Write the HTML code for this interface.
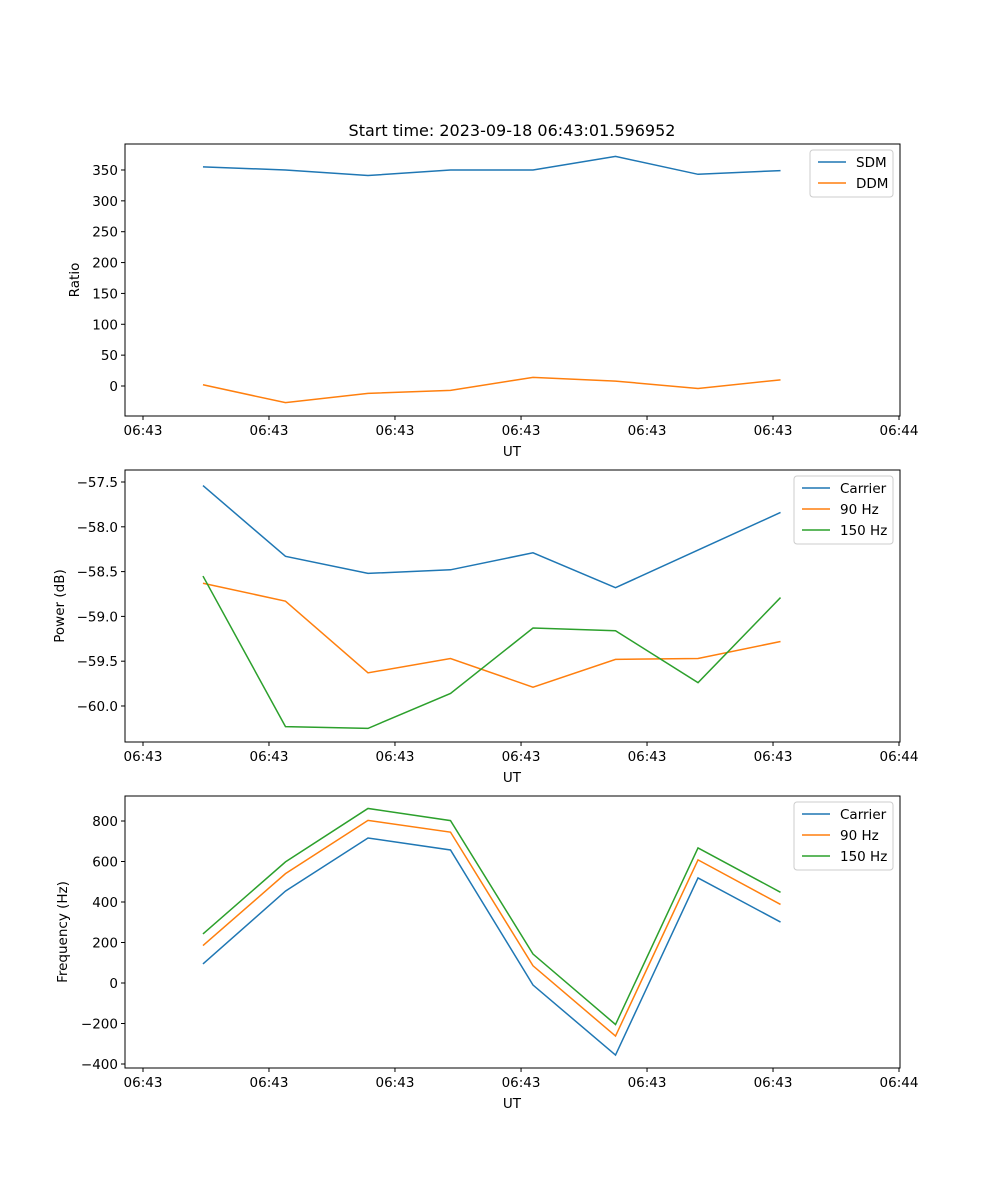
<!DOCTYPE html>
<html><head><meta charset="utf-8"><style>
html,body{margin:0;padding:0;background:#fff;}
svg{display:block;font-family:"DejaVu Sans","Liberation Sans",sans-serif;}
</style></head><body>
<svg id="fig" width="1000" height="1200" viewBox="0 0 1000 1200">
<text x="512" y="136" font-size="16" text-anchor="middle">Start time: 2023-09-18 06:43:01.596952</text>
</svg>
<script>
const xIdx = [0,1,2,3,4,5,6,7];
const xTickVals = [-0.727,0.8,2.327,3.855,5.382,6.909,8.436];
const xTickLabels = ["06:43","06:43","06:43","06:43","06:43","06:43","06:44"];
const sdm = [355,350,341,350,350,372,343,349];
const ddm = [2,-27,-12,-7,14,8,-4,10];
const pwrCarrier = [-57.54,-58.33,-58.52,-58.48,-58.29,-58.68,-58.26,-57.84];
const pwr90 = [-58.63,-58.83,-59.63,-59.47,-59.79,-59.48,-59.47,-59.28];
const pwr150 = [-58.55,-60.23,-60.25,-59.86,-59.13,-59.16,-59.74,-58.79];
const frqCarrier = [94,454,716,657,-10,-356,519,301];
const frq90 = [185,540,803,745,85,-262,608,388];
const frq150 = [242,598,862,802,143,-205,667,448];
const yTicks1 = [0,50,100,150,200,250,300,350];
const yTicks2 = [-60.0,-59.5,-59.0,-58.5,-58.0,-57.5];
const yTicks3 = [-400,-200,0,200,400,600,800];

const NS="http://www.w3.org/2000/svg";
const svg=document.getElementById('fig');
function mk(tag,attrs,parent){const e=document.createElementNS(NS,tag);for(const k in attrs)e.setAttribute(k,attrs[k]);(parent||svg).appendChild(e);return e;}
const X0=125,X1=900,XMIN=-0.945,XMAX=8.448;
const xs=v=>X0+(v-XMIN)/(XMAX-XMIN)*(X1-X0);
const colors=['#1f77b4','#ff7f0e','#2ca02c'];

function panel(id,top,bot,ymin,ymax,yTicks,fmt,ylab,series,names,legX,legW){
  const g=mk('g',{});
  
  
  const ys=v=>bot-(v-ymin)/(ymax-ymin)*(bot-top);
  series.forEach((s,i)=>{
    const p=mk('polyline',{points:s.map((v,j)=>xs(xIdx[j])+','+ys(v)).join(' '),fill:'none',stroke:colors[i],'stroke-width':1.5},g);
    
    
  });
  mk('rect',{x:X0,y:top,width:X1-X0,height:bot-top,fill:'none',stroke:'#000','stroke-width':1},g);
  xTickVals.forEach((v,i)=>{
    const x=xs(v);
    mk('line',{x1:x,x2:x,y1:bot,y2:bot+4,stroke:'#000'},g);
    const t=mk('text',{x:x,y:bot+19,'font-size':13.5,'text-anchor':'middle'},g);t.textContent=xTickLabels[i];
    
    
  });
  const xl=mk('text',{x:512,y:bot+40,'font-size':13.5,'text-anchor':'middle'},g);xl.textContent='UT';
  
  
  yTicks.forEach(v=>{
    const y=ys(v);
    mk('line',{x1:X0-4,x2:X0,y1:y,y2:y,stroke:'#000'},g);
    const t=mk('text',{x:X0-7,y:y+5,'font-size':13.5,'text-anchor':'end'},g);t.textContent=fmt(v);
    
    
  });
  const cy=(top+bot)/2;
  const yl=mk('text',{x:0,y:0,'font-size':13.5,'text-anchor':'middle',transform:`translate(${ylab[1]},${cy}) rotate(-90)`},g);yl.textContent=ylab[0];
  
  
  const lg=mk('g',{},g);
  
  
  const lh=5+names.length*21;
  mk('rect',{x:legX,y:top+6,width:legW,height:lh,rx:3,fill:'#fff',stroke:'#ccc','fill-opacity':0.8},lg);
  names.forEach((n,i)=>{
    const y=top+18+i*21;
    mk('line',{x1:legX+8,x2:legX+36,y1:y,y2:y,stroke:colors[i],'stroke-width':1.5},lg);
    const t=mk('text',{x:legX+46,y:y+5,'font-size':13.5},lg);t.textContent=n;
    
    
  });
}
panel('ratio',144,416,-48.6,392.1,yTicks1,v=>v<0?'\u2212'+(-v):String(v),['Ratio',79],[sdm,ddm],['SDM','DDM'],810,83);
panel('power',470,742,-60.402,-57.366,yTicks2,v=>'\u2212'+(-v).toFixed(1),['Power (dB)',64],[pwrCarrier,pwr90,pwr150],['Carrier','90 Hz','150 Hz'],794,99);
panel('frequency',796,1068,-419.8,923.5,yTicks3,v=>v<0?'\u2212'+(-v):String(v),['Frequency (Hz)',67],[frqCarrier,frq90,frq150],['Carrier','90 Hz','150 Hz'],794,99);
</script>
</body></html>
